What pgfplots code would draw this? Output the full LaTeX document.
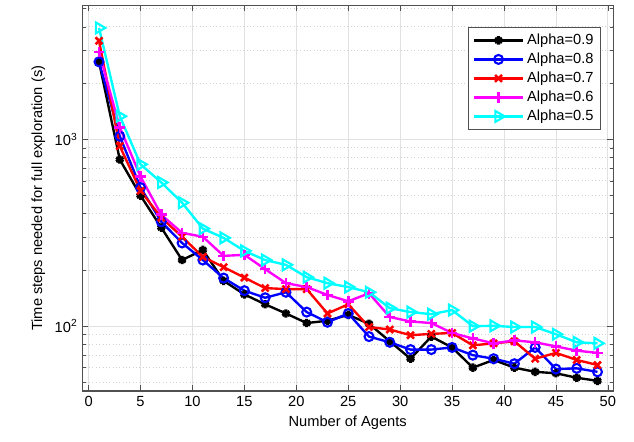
\documentclass[border=0pt]{standalone}
\usepackage{pgfplots}
\pgfplotsset{compat=1.18}
\usepackage{fontspec}
\setmainfont{Liberation Sans}
\definecolor{axgray}{RGB}{80,80,80}
\definecolor{gridgray}{RGB}{225,225,225}
\definecolor{mblue}{RGB}{0,0,255}
\definecolor{mred}{RGB}{255,0,0}
\definecolor{mmag}{RGB}{255,0,255}
\definecolor{mcyan}{RGB}{0,255,255}

\begin{document}
\begin{tikzpicture}
\begin{axis}[
    scale only axis,
    width=380pt, height=276pt,
    xmin=-0.6, xmax=50.5,
    ymin=45, ymax=5200,
    ymode=log,
    xtick={0,5,...,50},
    ytick={100,1000},
    yticklabels={10\textsuperscript{2},10\textsuperscript{3}},
    minor ytick={50,60,70,80,90,200,300,400,500,600,700,800,900,2000,3000,4000,5000},
    /pgf/number format/assume math mode=true,
    tick pos=both, tick align=inside,
    major tick length=4pt, minor tick length=2.5pt,
    axis line style={axgray, line width=0.8pt},
    every tick/.style={axgray},
    xmajorgrids, ymajorgrids, yminorgrids,
    major grid style={gridgray, line width=0.6pt},
    minor grid style={gridgray!80!black!60, dotted, line width=0.6pt},
    tick label style={font=\fontsize{10.5}{12}\selectfont, black},
    label style={font=\fontsize{10.5}{12}\selectfont},
    xlabel={Number of Agents},
    ylabel={Time steps needed for full exploration (s)},
    legend style={at={(0.977,0.945)}, anchor=north east, draw=axgray,
        font=\fontsize{10.5}{12}\selectfont, row sep=0.5pt, inner sep=3pt},
    legend cell align=left,
    legend image code/.code={\draw[mark repeat=2,mark phase=2,#1]
        plot coordinates {(0cm,0cm) (0.62cm,0cm) (1.24cm,0cm)};},
]
\addplot[black, line width=1.7pt, mark=asterisk, mark size=3pt, mark options={line width=2.2pt}] coordinates {
(1,2600) (3,780) (5,500) (7,337) (9,226) (11,256) (13,175) (15,148) (17,131)
(19,117) (21,104) (23,107) (25,115) (27,103) (29,83) (31,67) (33,88) (35,77)
(37,60) (39,66) (41,60) (43,57) (45,56) (47,53) (49,51)};
\addlegendentry{Alpha=0.9}
\addplot[mblue, line width=1.7pt, mark=o, mark size=3.2pt, mark options={line width=1.5pt}] coordinates {
(1,2600) (3,1040) (5,552) (7,362) (9,279) (11,226) (13,181) (15,155) (17,142)
(19,152) (21,119) (23,105) (25,117) (27,88) (29,82) (31,75) (33,75) (35,77)
(37,70) (39,67) (41,63) (43,77) (45,59) (47,59.5) (49,57)};
\addlegendentry{Alpha=0.8}
\addplot[mred, line width=1.7pt, mark=x, mark size=3.5pt, mark options={line width=1.8pt}] coordinates {
(1,3370) (3,920) (5,530) (7,381) (9,301) (11,235) (13,207) (15,182) (17,160)
(19,158) (21,158) (23,117) (25,131) (27,99) (29,96) (31,89.5) (33,91) (35,92)
(37,79) (39,81) (41,83) (43,67) (45,72) (47,66) (49,62)};
\addlegendentry{Alpha=0.7}
\addplot[mmag, line width=1.7pt, mark=+, mark size=3.8pt, mark options={line width=1.8pt}] coordinates {
(1,2940) (3,1160) (5,632) (7,395) (9,316) (11,301) (13,238) (15,241) (17,202)
(19,170) (21,162) (23,147) (25,136) (27,150) (29,112) (31,106) (33,104) (35,92)
(37,86) (39,81) (41,84) (43,82) (45,78) (47,74) (49,72)};
\addlegendentry{Alpha=0.6}
\addplot[mcyan, line width=1.7pt, mark=triangle, mark size=4.5pt, mark options={rotate=-90, line width=1.5pt}] coordinates {
(1,3950) (3,1330) (5,735) (7,588) (9,458) (11,333) (13,297) (15,253) (17,226)
(19,213) (21,183) (23,170) (25,162) (27,152) (29,125) (31,119) (33,116) (35,122)
(37,100) (39,100.5) (41,99) (43,99) (45,90.6) (47,82) (49,81)};
\addlegendentry{Alpha=0.5}
\end{axis}
\path ([xshift=-59pt,yshift=-36pt]current axis.south west)
  rectangle ([xshift=15pt,yshift=4pt]current axis.north east);
\end{tikzpicture}
\end{document}
